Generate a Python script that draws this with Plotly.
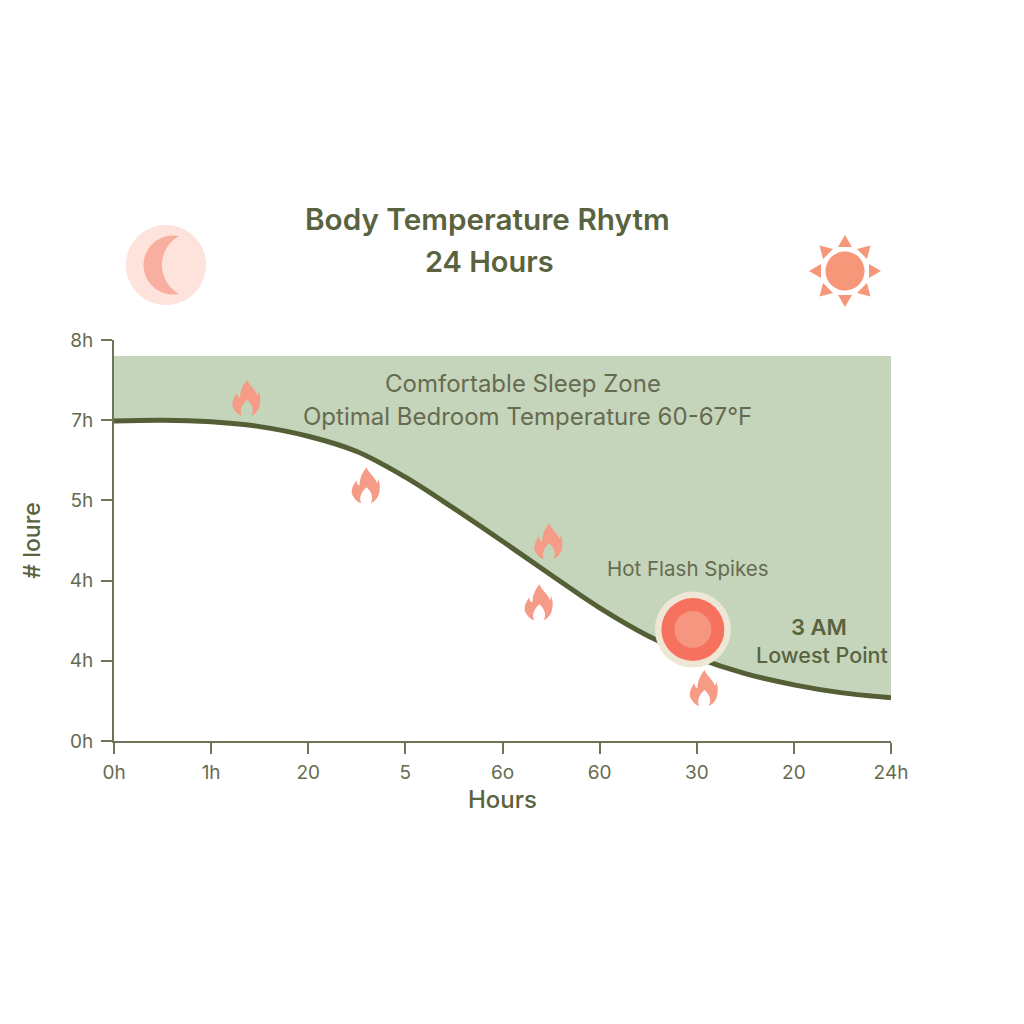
import numpy as np
import plotly.graph_objects as go

# ---- data ----
x_ticks = [0, 1, 2, 3, 4, 5, 6, 7, 8]
x_labels = ["0h", "1h", "20", "5", "6o", "60", "30", "20", "24h"]
y_ticks = [0, 1, 2, 3, 4, 5]
y_labels = ["0h", "4h", "4h", "5h", "7h", "8h"]
curve_x = [0, 0.5, 1, 1.5, 2, 2.5, 3, 3.5, 4, 4.5, 5, 5.5, 6, 6.5, 7, 7.5, 8]
curve_y = [3.99, 4.0, 3.98, 3.92, 3.80, 3.61, 3.29, 2.90, 2.49, 2.07, 1.66, 1.31, 1.04, 0.84, 0.70, 0.60, 0.54]
zone_top = 4.8
flame_x = [1.36, 2.59, 4.47, 4.37, 6.07]
flame_y = [4.28, 3.19, 2.49, 1.73, 0.66]
low_x = [5.96]
low_y = [1.39]

GREEN = "#C5D5BB"
DARK = "#555F36"
AXIS = "#6F7358"
TXT = "#666B50"
HEAD = "#5A6340"
FONT = "Inter"

# plot-area box in page pixels, used only to place decorations and notes
BOX_L, BOX_R, BOX_T, BOX_B = 113.0, 890.0, 340.0, 741.0


def fx(px):
    return (px - BOX_L) / (BOX_R - BOX_L)


def fy(py):
    return (BOX_B - py) / (BOX_B - BOX_T)


def flame_path():
    return ("M 1 18 C 3 12 9 9 11 3 C 12 1 13 5 12 7 C 15 3 15 -6 12 -12 "
            "C 10 -15 8 -17 5 -18 C 8 -14 7 -7 1 -2 C -5 -7 -7 -14 -4 -18 "
            "C -8 -17 -11 -14 -13 -10 C -15 -6 -13 0 -9 5 C -9 2 -8 0 -6 0 C -6 7 -3 13 1 18 Z")


def poly_path(pts):
    return "M " + " L ".join(f"{a:.1f} {b:.1f}" for a, b in pts) + " Z"


def px_shape(path, xa, ya, color, xref="paper", yref="paper"):
    return dict(type="path", path=path, xsizemode="pixel", ysizemode="pixel",
                xanchor=xa, yanchor=ya, xref=xref, yref=yref,
                fillcolor=color, line=dict(width=0), layer="above")


fig = go.Figure()
fig.add_trace(go.Scatter(x=[curve_x[0], curve_x[-1]], y=[zone_top, zone_top], mode="lines",
                         line=dict(width=0, color=GREEN), hoverinfo="skip", showlegend=False))
fig.add_trace(go.Scatter(x=curve_x, y=curve_y, mode="lines", fill="tonexty", fillcolor=GREEN,
                         line=dict(color=DARK, width=5, shape="spline", smoothing=1.0),
                         showlegend=False))
for size, col in [(76, "#EFE7D6"), (63, "#F7725E"), (37, "#F69680")]:
    fig.add_trace(go.Scatter(x=low_x, y=low_y, mode="markers",
                             marker=dict(size=size, color=col, line=dict(width=0)),
                             showlegend=False))

shapes = [px_shape(flame_path(), a, b, "#F59B86", "x", "y") for a, b in zip(flame_x, flame_y)]

# moon
moon_a, moon_b = fx(165), fy(265)
t = np.linspace(0, 2 * np.pi, 80)
shapes.append(px_shape(poly_path(np.c_[40 * np.cos(t), 40 * np.sin(t)]), moon_a, moon_b, "#FDE3DB"))
cres = [(7 + 29.5 * np.cos(a), 29.5 * np.sin(a)) for a in np.radians(np.linspace(80, 280, 50))]
cres += [(29.2 + 33.2 * np.cos(a), 33.2 * np.sin(a)) for a in np.radians(np.linspace(241, 119, 40))]
shapes.append(px_shape(poly_path(cres), moon_a, moon_b, "#F9AFA0"))

# sun
sun_a, sun_b = fx(844), fy(271)
shapes.append(px_shape(poly_path(np.c_[19.5 * np.cos(t), 19.5 * np.sin(t)]), sun_a, sun_b, "#F6977A"))
for k in range(8):
    a = k * np.pi / 4
    c, s = np.cos(a), np.sin(a)
    tri = [(36 * c, 36 * s), (24 * c - 7 * s, 24 * s + 7 * c), (24 * c + 7 * s, 24 * s - 7 * c)]
    shapes.append(px_shape(poly_path(tri), sun_a, sun_b, "#F6977A"))


def note(text, px, py, size, color=TXT, weight=400):
    return dict(text=text, x=fx(px), y=fy(py), xref="paper", yref="paper", showarrow=False,
                xanchor="center", yanchor="middle",
                font=dict(family=FONT, size=size, color=color, weight=weight))


annotations = [
    note("Body Temperature Rhytm", 486, 219, 29.7, HEAD, 600),
    note("24 Hours", 488, 262, 29, HEAD, 600),
    note("Comfortable Sleep Zone", 522, 383, 24),
    note("Optimal Bedroom Temperature 60-67°F", 526, 416, 24),
    note("Hot Flash Spikes", 687, 568, 20.5),
    note("3 AM", 818, 627, 22, HEAD, 600),
    note("Lowest Point", 821, 655, 21.5, HEAD, 500),
]

axis = dict(showgrid=False, zeroline=False, showline=True, linecolor=AXIS, linewidth=2,
            ticks="outside", tickcolor=AXIS, tickwidth=2, ticklen=11,
            tickfont=dict(family=FONT, size=19, color=TXT))

# the page adds an 8px body margin, so the figure is 1008px and margins are 8px smaller
fig.update_layout(
    width=1008, height=1008, autosize=False,
    margin=dict(l=106, r=125, t=332, b=275),
    paper_bgcolor="white", plot_bgcolor="white", showlegend=False,
    shapes=shapes, annotations=annotations,
    xaxis=dict(axis, range=[0, 8], tickvals=x_ticks, ticktext=x_labels, ticklabelstandoff=2,
               title=dict(text="Hours", standoff=8,
                          font=dict(family=FONT, size=24, color=HEAD, weight=500))),
    yaxis=dict(axis, range=[0, 5], tickvals=y_ticks, ticktext=y_labels, ticklabelstandoff=4,
               title=dict(text="# loure", standoff=23,
                          font=dict(family=FONT, size=23, color=HEAD, weight=500))),
)
fig.write_html("out.html")
